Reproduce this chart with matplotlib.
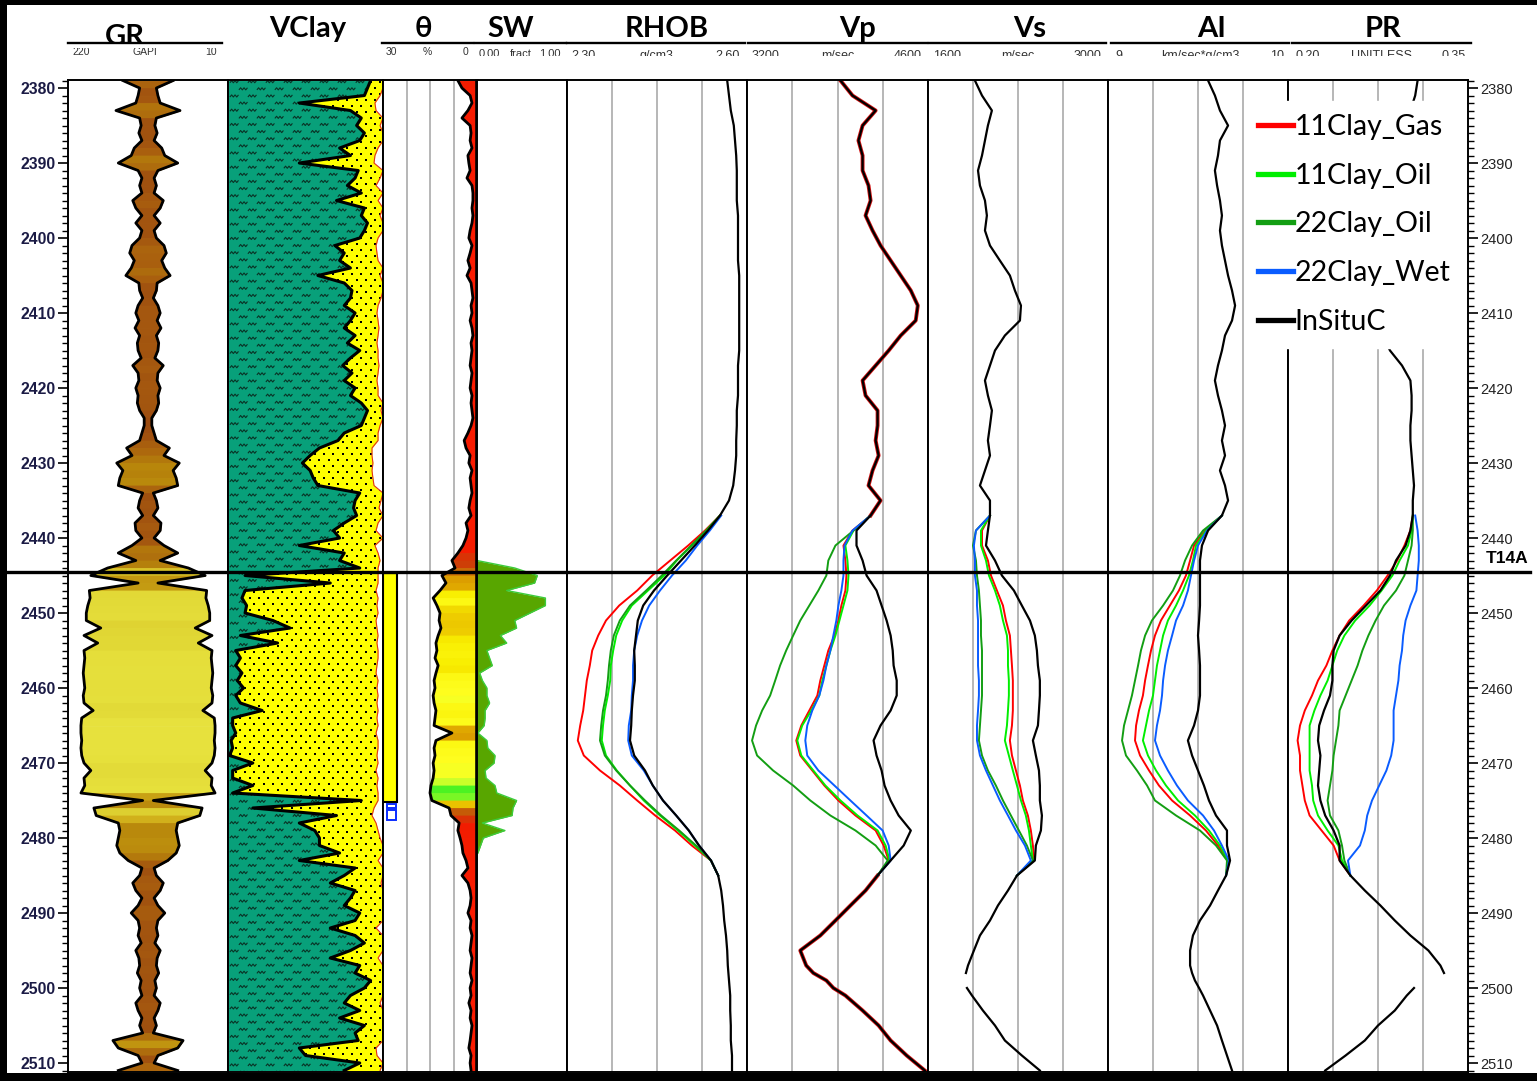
import numpy as np
import matplotlib
matplotlib.use("Agg")
import matplotlib.pyplot as plt
from matplotlib.colors import LinearSegmentedColormap, Normalize
from matplotlib.patches import Rectangle
from matplotlib.lines import Line2D
from matplotlib.path import Path
from matplotlib.ticker import MultipleLocator

plt.rcParams['font.family'] = ['Lato', 'DejaVu Sans']

# ---------------- log data ----------------
DEPTH = np.arange(2379, 2512)          # 1 m samples
# elastic logs: 2 m, with 1 m around the 2499 m data gap
EL_DEPTH = np.array(list(range(2379, 2498, 2)) + [2498, 2499, 2500] + list(range(2501, 2512, 2)))
SUB_DEPTH = np.arange(2437, 2486, 2)   # fluid substitution window
SW_DEPTH = np.arange(2443, 2483)

T14A = 2444.5
PAY = (2444.7, 2475.2)
WET_FLAGS = [(2475.4, 2476.0), (2476.3, 2477.6)]

GR = [82, 104, 102, 99, 73, 104, 106, 103, 107, 97,
      93, 76, 102, 107, 104, 107, 95, 99, 107, 99,
      107, 104, 94, 91, 97, 93, 86, 103, 104, 108,
      102, 99, 103, 98, 104, 101, 102, 106, 95, 102,
      103, 99, 102, 101, 104, 110, 110, 107, 104, 87,
      94, 74, 82, 78, 76, 108, 104, 102, 108, 98,
      99, 107, 94, 76, 99, 62, 40, 102, 38, 39,
      36, 34, 34, 53, 31, 49, 31, 32, 31, 30,
      31, 32, 30, 31, 43, 28, 27, 27, 28, 27,
      28, 31, 40, 31, 32, 27, 108, 44, 47, 76,
      78, 76, 74, 78, 89, 107, 104, 95, 99, 107,
      102, 93, 102, 104, 102, 106, 99, 103, 104, 101,
      106, 104, 107, 99, 102, 107, 104, 108, 69, 76,
      102, 107, 76]

VCLAY = [0.92, 0.90, 0.88, 0.46, 0.79, 0.86, 0.83, 0.88, 0.85, 0.72,
         0.79, 0.46, 0.84, 0.82, 0.77, 0.86, 0.70, 0.88, 0.86, 0.90,
         0.88, 0.85, 0.69, 0.75, 0.72, 0.79, 0.58, 0.75, 0.80, 0.79,
         0.75, 0.82, 0.79, 0.75, 0.82, 0.77, 0.85, 0.79, 0.74, 0.80,
         0.75, 0.82, 0.79, 0.86, 0.90, 0.88, 0.86, 0.75, 0.71, 0.59,
         0.53, 0.48, 0.53, 0.55, 0.58, 0.85, 0.82, 0.81, 0.83, 0.75,
         0.68, 0.72, 0.46, 0.75, 0.72, 0.85, 0.11, 0.66, 0.11, 0.09,
         0.12, 0.11, 0.29, 0.40, 0.08, 0.32, 0.05, 0.08, 0.05, 0.09,
         0.06, 0.10, 0.05, 0.08, 0.22, 0.03, 0.03, 0.05, 0.02, 0.03,
         0.01, 0.16, 0.03, 0.03, 0.16, 0.03, 0.86, 0.16, 0.70, 0.46,
         0.56, 0.59, 0.59, 0.72, 0.46, 0.82, 0.75, 0.66, 0.82, 0.79,
         0.75, 0.85, 0.82, 0.66, 0.82, 0.88, 0.79, 0.66, 0.85, 0.82,
         0.92, 0.88, 0.79, 0.75, 0.85, 0.72, 0.88, 0.82, 0.84, 0.46,
         0.50, 0.85, 0.75]

PHIE = [0, 0, .019, .052, .045, 0, .019, 0, 0, .032,
        .052, .058, 0, .019, .045, 0, .032, 0, .019, 0,
        0, .032, .045, .039, .032, 0, .019, 0, 0, .013,
        .032, .039, .032, .026, .032, .039, .032, .032, .026, .032,
        .039, .032, .032, 0, .013, 0, .019, .032, .032, .071,
        .071, .065, .071, .065, .058, 0, .013, .026, 0, .032,
        .045, 0, .052, .032, .019, .032, .032, .032, .045, .032,
        .039, .032, .045, .039, .032, .039, .032, .032, .039, .045,
        .032, .039, .032, .039, .032, .039, .032, .045, .032, .032,
        .039, .032, .045, .032, .039, .032, .032, .058, .071, .045,
        .032, .019, 0, 0, .032, 0, 0, .013, 0, 0,
        0, 0, 0, .045, 0, 0, 0, .032, 0, 0,
        0, 0, 0, .019, 0, 0, 0, 0, 0, .045,
        .039, 0, .019]

THETA = [6.1, 4.8, 2.2, 1.6, 2.9, 4.8, 2.2, 1.9, 2.2, 1.6,
         2.9, 2.6, 2.2, 3.2, 1.6, 1.3, 1.3, 1.6, 1.3, 1.6,
         2.2, 2.6, 1.6, 2.2, 2.9, 2.2, 3.2, 1.9, 1.6, 1.3,
         1.9, 1.6, 2.2, 1.6, 1.3, 1.9, 1.6, 1.9, 2.2, 1.6,
         1.9, 2.2, 1.6, 1.9, 1.6, 1.3, 1.9, 2.9, 4.1, 3.5,
         2.2, 2.6, 1.6, 2.2, 1.9, 1.6, 2.2, 2.6, 1.9, 3.5,
         2.9, 3.5, 4.5, 6.1, 8.0, 7.0, 11.2, 9.9, 11.8, 14.0,
         12.8, 11.8, 12.1, 11.5, 12.4, 13.1, 12.8, 13.4, 12.4, 13.1,
         13.7, 13.4, 14.0, 13.7, 13.1, 13.4, 13.7, 8.0, 13.1, 13.7,
         13.4, 14.0, 13.7, 14.0, 14.7, 15.0, 14.4, 8.9, 8.3, 5.7,
         6.1, 5.4, 4.8, 4.5, 3.5, 2.9, 4.8, 2.9, 2.2, 1.9,
         2.2, 2.9, 1.9, 2.2, 1.6, 1.9, 2.2, 1.6, 1.9, 2.2,
         1.6, 2.2, 1.9, 2.6, 1.9, 2.2, 1.6, 1.9, 2.2, 2.6,
         1.9, 2.2, 1.9]

SW = [0.00, 0.42, 0.67, 0.64, 0.33, 0.76, 0.76, 0.59, 0.42, 0.44,
      0.26, 0.33, 0.11, 0.14, 0.17, 0.03, 0.06, 0.11, 0.11, 0.14,
      0.09, 0.09, 0.08, 0.01, 0.11, 0.12, 0.20, 0.19, 0.09, 0.10,
      0.20, 0.22, 0.44, 0.40, 0.39, 0.06, 0.31, 0.07, 0.04, 0.01]

# in-situ elastic logs (on EL_DEPTH)
RHOB_IN = [2.567, 2.570, 2.573, 2.578, 2.580, 2.582, 2.583, 2.583, 2.583, 2.585,
           2.585, 2.585, 2.585, 2.587, 2.587, 2.587, 2.587, 2.587, 2.587, 2.585,
           2.585, 2.585, 2.583, 2.583, 2.582, 2.582, 2.580, 2.577, 2.570, 2.555,
           2.535, 2.513, 2.490, 2.467, 2.445, 2.427, 2.418, 2.415, 2.412, 2.413,
           2.413, 2.410, 2.408, 2.407, 2.405, 2.412, 2.430, 2.443, 2.460, 2.482,
           2.503, 2.520, 2.540, 2.552, 2.557, 2.560, 2.562, 2.565, 2.567, 2.568,
           2.569, 2.570, 2.571,
           2.572, 2.572, 2.573, 2.573, 2.575, 2.575]
VP_IN = [3923, 4016, 4195, 4094, 4062, 4094, 4094, 4140, 4156, 4117,
         4171, 4233, 4311, 4389, 4467, 4521, 4505, 4389, 4296, 4195,
         4094, 4117, 4210, 4210, 4195, 4218, 4171, 4140, 4233, 4156,
         4047, 4047, 4094, 4125, 4202, 4241, 4280, 4311, 4327, 4334,
         4358, 4358, 4311, 4233, 4179, 4202, 4241, 4264, 4311, 4373,
         4467, 4412, 4311, 4210, 4117, 4000, 3884, 3767, 3612, 3658,
         3713, 3814, 3868,
         3961, 4094, 4218, 4311, 4435, 4575]
VS_IN = [1965, 2020, 2097, 2066, 2043, 2020, 1989, 2004, 2043, 2058,
         2043, 2082, 2159, 2237, 2276, 2323, 2315, 2198, 2121, 2082,
         2043, 2066, 2097, 2082, 2066, 2082, 2043, 2004, 2082, 2082,
         2066, 2051, 2121, 2175, 2268, 2330, 2393, 2431, 2447, 2455,
         2470, 2470, 2463, 2455, 2416, 2439, 2463, 2470, 2470, 2486,
         2478, 2439, 2431, 2292, 2222, 2144, 2082, 2004, 1957, 1911,
         1895, np.nan, 1903,
         1942, 2027, 2121, 2198, 2330, 2470]
AI_IN = [9.556, 9.594, 9.622, 9.667, 9.622, 9.611, 9.594, 9.606, 9.622, 9.633,
         9.622, 9.633, 9.650, 9.667, 9.689, 9.706, 9.689, 9.650, 9.633, 9.611,
         9.594, 9.611, 9.633, 9.650, 9.633, 9.650, 9.622, 9.650, 9.667, 9.633,
         9.556, 9.522, 9.511, 9.511, 9.511, 9.511, 9.506, 9.500, 9.506, 9.511,
         9.511, 9.511, 9.500, 9.478, 9.444, 9.467, 9.500, 9.533, 9.561, 9.600,
         9.661, 9.661, 9.678, 9.656, 9.611, 9.567, 9.511, 9.472, 9.456, 9.456,
         9.467, 9.483, 9.506,
         9.528, 9.567, 9.606, 9.633, 9.661, 9.689]
PR_IN = [0.308, 0.306, 0.302, 0.298, 0.293, 0.292, 0.289, 0.293, 0.295, 0.292,
         0.289, 0.287, 0.283, 0.281, 0.278, 0.275, 0.277, 0.279, 0.285, 0.295,
         0.302, 0.303, 0.303, 0.302, 0.302, 0.303, 0.304, 0.305, 0.304, 0.304,
         0.302, 0.298, 0.290, 0.285, 0.277, 0.265, 0.253, 0.243, 0.238, 0.237,
         0.237, 0.235, 0.230, 0.226, 0.225, 0.227, 0.226, 0.225, 0.227, 0.231,
         0.238, 0.243, 0.243, 0.252, 0.264, 0.277, 0.289, 0.302, 0.317, 0.327,
         0.330, np.nan, 0.305,
         0.299, 0.289, 0.275, 0.264, 0.248, 0.231]

# substituted cases, 2437-2485 m
RHOB_GAS = [2.555, 2.530, 2.502, 2.472, 2.442, 2.417, 2.387, 2.365, 2.352, 2.342, 2.338, 2.333, 2.330,
            2.327, 2.322, 2.318, 2.328, 2.355, 2.388, 2.417, 2.447, 2.480, 2.508, 2.540, 2.552]
RHOB_OIL11 = [2.555, 2.532, 2.508, 2.483, 2.462, 2.435, 2.408, 2.392, 2.382, 2.377, 2.373, 2.372, 2.368,
              2.363, 2.360, 2.358, 2.365, 2.383, 2.405, 2.428, 2.455, 2.485, 2.513, 2.540, 2.552]
RHOB_OIL22 = [2.555, 2.532, 2.507, 2.482, 2.458, 2.432, 2.405, 2.388, 2.378, 2.373, 2.370, 2.368, 2.365,
              2.360, 2.357, 2.355, 2.363, 2.382, 2.405, 2.430, 2.457, 2.487, 2.515, 2.540, 2.552]
RHOB_WET22 = [2.557, 2.538, 2.517, 2.498, 2.475, 2.455, 2.437, 2.425, 2.417, 2.412, 2.410, 2.410, 2.408,
              2.407, 2.403, 2.402, 2.408, 2.428, 2.443, 2.460, 2.482, 2.503, 2.520, 2.540, 2.552]

VP_GAS = [4156, 4016, 3946, 3961, 3969, 3961, 3930, 3907, 3876, 3829, 3798, 3767, 3744,
          3682, 3620, 3581, 3612, 3705, 3798, 3907, 4039, 4195, 4257, 4296, 4210]
VP_OIL11 = [4156, 4024, 3961, 3977, 3985, 3977, 3946, 3915, 3884, 3845, 3814, 3783, 3759,
            3697, 3627, 3589, 3620, 3713, 3806, 3923, 4055, 4210, 4272, 4303, 4210]
VP_OIL22 = [4156, 4024, 3884, 3829, 3814, 3752, 3682, 3612, 3557, 3503, 3456, 3418, 3379,
            3317, 3270, 3239, 3278, 3402, 3557, 3690, 3845, 4039, 4195, 4288, 4210]
VP_WET22 = [4156, 4016, 3954, 3946, 3946, 3930, 3907, 3891, 3868, 3845, 3814, 3791, 3759,
            3705, 3666, 3651, 3666, 3752, 3876, 4000, 4125, 4249, 4296, 4311, 4210]

VS_GAS = [2082, 2020, 2020, 2066, 2090, 2136, 2183, 2206, 2237, 2245, 2253, 2260, 2260,
          2260, 2253, 2237, 2253, 2284, 2315, 2338, 2377, 2400, 2416, 2424, 2292]
VS_OIL11 = [2082, 2012, 2012, 2051, 2074, 2121, 2159, 2183, 2214, 2222, 2222, 2229, 2229,
            2222, 2214, 2198, 2229, 2260, 2292, 2323, 2361, 2385, 2400, 2416, 2292]
VS_OIL22 = [2082, 1973, 1950, 1973, 1981, 1996, 2004, 2012, 2012, 2020, 2020, 2020, 2020,
            2012, 2004, 1996, 2020, 2066, 2128, 2183, 2245, 2307, 2369, 2416, 2292]
VS_WET22 = [2082, 1973, 1957, 1965, 1965, 1981, 1981, 1989, 1989, 1989, 1989, 1996, 1996,
            1989, 1981, 1981, 2004, 2051, 2105, 2159, 2222, 2284, 2354, 2400, 2292]

AI_GAS = [9.633, 9.539, 9.478, 9.456, 9.433, 9.394, 9.344, 9.294, 9.261, 9.239, 9.222, 9.206, 9.194,
          9.172, 9.156, 9.150, 9.178, 9.228, 9.283, 9.356, 9.456, 9.544, 9.611, 9.667, 9.656]
AI_OIL11 = [9.633, 9.544, 9.489, 9.472, 9.450, 9.417, 9.378, 9.333, 9.306, 9.289, 9.272, 9.261, 9.250,
            9.228, 9.211, 9.194, 9.222, 9.267, 9.322, 9.389, 9.483, 9.561, 9.622, 9.667, 9.656]
AI_OIL22 = [9.633, 9.528, 9.467, 9.428, 9.400, 9.361, 9.306, 9.244, 9.206, 9.183, 9.167, 9.150, 9.133,
            9.111, 9.089, 9.078, 9.100, 9.161, 9.217, 9.261, 9.378, 9.511, 9.600, 9.661, 9.656]
AI_WET22 = [9.633, 9.550, 9.500, 9.478, 9.461, 9.444, 9.417, 9.378, 9.356, 9.333, 9.317, 9.306, 9.300,
            9.289, 9.272, 9.261, 9.289, 9.333, 9.383, 9.444, 9.528, 9.589, 9.633, 9.672, 9.656]

PR_GAS = [0.304, 0.302, 0.297, 0.291, 0.283, 0.274, 0.263, 0.251, 0.243, 0.237, 0.232, 0.225, 0.220,
          0.214, 0.210, 0.208, 0.210, 0.210, 0.212, 0.214, 0.218, 0.228, 0.238, 0.243, 0.252]
PR_OIL11 = [0.304, 0.303, 0.300, 0.293, 0.287, 0.278, 0.268, 0.256, 0.247, 0.241, 0.237, 0.233, 0.227,
            0.222, 0.218, 0.218, 0.218, 0.218, 0.220, 0.221, 0.225, 0.233, 0.242, 0.245, 0.252]
PR_OIL22 = [0.304, 0.304, 0.303, 0.300, 0.297, 0.290, 0.280, 0.273, 0.267, 0.262, 0.258, 0.253, 0.248,
            0.243, 0.242, 0.240, 0.238, 0.237, 0.235, 0.233, 0.235, 0.242, 0.245, 0.247, 0.252]
PR_WET22 = [0.306, 0.308, 0.309, 0.309, 0.308, 0.307, 0.302, 0.298, 0.296, 0.295, 0.293, 0.292, 0.290,
            0.288, 0.288, 0.288, 0.286, 0.282, 0.276, 0.270, 0.266, 0.264, 0.260, 0.250, 0.252]

CASES = ["11Clay_Gas", "11Clay_Oil", "22Clay_Oil", "22Clay_Wet", "InSituC"]
CASE_COLORS = ["#ff0000", "#00ee00", "#139e13", "#0a5cff", "black"]

TITLES = ["GR", "VClay", "θ", "SW", "RHOB", "Vp", "Vs", "AI", "PR"]
SCALES = [("220", "GAPI", "10"), None, ("30", "%", "0"), ("0.00", "fract", "1.00"),
          ("2.30", "g/cm3", "2.60"), ("3200", "m/sec", "4600"), ("1600", "m/sec", "3000"),
          ("9", "km/sec*g/cm3", "10"), ("0.20", "UNITLESS", "0.35")]

# ---------------- layout (pixels) ----------------
W, H = 1537, 1081
EDGES = [68, 228, 383, 477, 567, 747, 928, 1108, 1288, 1468]
TOP, BOT = 80, 1072
D_TOP, D_BOT = 2378.93, 2511.2
TITLE_X = [125, 308, 423, 511, 667, 858, 1030, 1212, 1383]
SCALE_LINES = [(68, 222), None, (382, 473), (475, 566), (567, 745), (748, 927),
               (929, 1106), (1111, 1289), (1292, 1471)]
SCALE_FONT = [7.5, None, 7.5, 8, 9, 9, 9, 9, 9]
SCALE_Y = [52, None, 52, 54, 56, 56, 56, 56, 56]

fig = plt.figure(figsize=(W / 100, H / 100), dpi=100)


def fx(px):
    return px / W


def fy(py):
    return 1 - py / H


axes = []
for l, r in zip(EDGES[:-1], EDGES[1:]):
    ax = fig.add_axes([fx(l), fy(BOT), (r - l) / W, (BOT - TOP) / H])
    ax.set_ylim(D_BOT, D_TOP)
    ax.tick_params(which='both', left=False, bottom=False, labelleft=False, labelbottom=False)
    for s in ax.spines.values():
        s.set_linewidth(1.4)
    axes.append(ax)
ax_gr, ax_vcl, ax_th, ax_sw, ax_rhob, ax_vp, ax_vs, ax_ai, ax_pr = axes

# ---- GR, mirrored about the track centre ----
ax_gr.set_xlim(220, 10)
gr = np.asarray(GR, float)
gr_mirror = 230 - gr
gr_cmap = LinearSegmentedColormap.from_list(
    "gr", [(0, "#e8e33e"), (0.2, "#e0d634"), (0.45, "#cfac18"), (0.62, "#b8870b"),
           (0.82, "#a95f0e"), (1, "#9c4b10")])
gr_norm = Normalize(25, 110, clip=True)
for i in range(len(DEPTH) - 1):
    c = gr_cmap(gr_norm(0.5 * (gr[i] + gr[i + 1])))
    ax_gr.fill_betweenx(DEPTH[i:i + 2], gr_mirror[i:i + 2], gr[i:i + 2], color=c, lw=0.6)
ax_gr.plot(gr, DEPTH, color="k", lw=2.0)
ax_gr.plot(gr_mirror, DEPTH, color="k", lw=2.0)

# ---- VClay: shale / sand / porosity ----
ax_vcl.set_xlim(0, 1)
vcl = np.asarray(VCLAY)
sand_edge = 1 - np.asarray(PHIE)
green = ax_vcl.fill_betweenx(DEPTH, 0, vcl, color="#08a07a", lw=0)
yellow = ax_vcl.fill_betweenx(DEPTH, vcl, sand_edge, color="#ffff00", lw=0)

zig = Path([(-1, 0), (-0.6, 0.5), (-0.2, 0), (0.2, 0.5), (0.6, 0), (1.0, 0.5)])
sx, sy = np.meshgrid(np.arange(0.04, 1.0, 0.116), np.arange(2379.3, 2511.5, 0.95))
sx = sx + (np.arange(sy.shape[0]) % 2 * 0.058)[:, None]
shale_sym = ax_vcl.scatter(sx.ravel(), sy.ravel(), marker=zig, s=38, facecolors="none",
                           edgecolors="#0a3326", linewidths=0.8, zorder=1.5)
shale_sym.set_clip_path(green.get_paths()[0], green.get_transform())

dx, dy = np.meshgrid(np.arange(0.02, 1.0, 0.06), np.arange(2379.2, 2511.5, 0.8))
dx = dx + (np.arange(dy.shape[0]) % 2 * 0.03)[:, None]
sand_dots = ax_vcl.scatter(dx.ravel(), dy.ravel(), marker="s", s=1.6, color="k", lw=0, zorder=1.5)
sand_dots.set_clip_path(yellow.get_paths()[0], yellow.get_transform())

ax_vcl.plot(sand_edge, DEPTH, color="#e03020", lw=0.8, zorder=2)
ax_vcl.plot(vcl, DEPTH, color="k", lw=2.2, zorder=2.5)

# ---- theta ----
ax_th.set_xlim(30, 0)
th = np.asarray(THETA)
th_cmap = LinearSegmentedColormap.from_list(
    "theta", [(0, "#ff1a00"), (0.40, "#f21c00"), (0.54, "#c04a0a"), (0.67, "#d48c00"),
              (0.78, "#ebc400"), (0.86, "#f8ee00"), (0.92, "#ffff22"), (0.96, "#c6ff2a"),
              (1, "#2ef020")])
th_norm = Normalize(0, 15, clip=True)
for i in range(len(DEPTH) - 1):
    c = th_cmap(th_norm(0.5 * (th[i] + th[i + 1])))
    ax_th.fill_betweenx(DEPTH[i:i + 2], 0, th[i:i + 2], color=c, lw=0.6, zorder=1)
ax_th.plot(th, DEPTH, color="k", lw=2.0, zorder=2)
ax_th.spines["right"].set_linewidth(2.6)
ax_th.add_patch(Rectangle((25.5, PAY[0]), 4.5, PAY[1] - PAY[0], fc="#ffff00", ec="k", lw=1.5, zorder=3))
for top, base in WET_FLAGS:
    ax_th.add_patch(Rectangle((26.0, top), 2.8, base - top, fc="none", ec="#0a2cff", lw=1.4, zorder=3))

# ---- SW ----
ax_sw.set_xlim(0, 1)
ax_sw.fill_betweenx(SW_DEPTH, 0, SW, color="#58a600", lw=0)
ax_sw.plot(SW, SW_DEPTH, color="#3ccc3c", lw=1.0)

# ---- elastic tracks ----
elastic = [
    (ax_rhob, (2.30, 2.60), RHOB_IN, [RHOB_GAS, RHOB_OIL11, RHOB_OIL22, RHOB_WET22]),
    (ax_vp, (3200, 4600), VP_IN, [VP_GAS, VP_OIL11, VP_OIL22, VP_WET22]),
    (ax_vs, (1600, 3000), VS_IN, [VS_GAS, VS_OIL11, VS_OIL22, VS_WET22]),
    (ax_ai, (9, 10), AI_IN, [AI_GAS, AI_OIL11, AI_OIL22, AI_WET22]),
    (ax_pr, (0.20, 0.35), PR_IN, [PR_GAS, PR_OIL11, PR_OIL22, PR_WET22]),
]
outside = (EL_DEPTH <= SUB_DEPTH[0]) | (EL_DEPTH >= SUB_DEPTH[-1])
for ax, lim, insitu, subs in elastic:
    ax.set_xlim(*lim)
    if ax is ax_vp:
        # gas case coincides with in-situ outside the substitution window
        ax.plot(np.where(outside, insitu, np.nan), EL_DEPTH, color="#d01010", lw=2.8)
    for vals, c in zip(subs, CASE_COLORS[:4]):
        ax.plot(vals, SUB_DEPTH, color=c, lw=1.4)
    ax.plot(insitu, EL_DEPTH, color="k", lw=1.6)

for ax, lim in [(ax_th, (30, 0))] + [(e[0], e[1]) for e in elastic]:
    ax.set_xticks(np.linspace(lim[0], lim[1], 5)[1:-1])
    ax.set_axisbelow(True)
    ax.grid(axis="x", color="#a3a3a3", lw=1.1)
    ax.grid(axis="y", visible=False)

# ---- depth scales ----
for ax, side in [(ax_gr, "left"), (ax_pr, "right")]:
    ax.yaxis.set_major_locator(MultipleLocator(10))
    ax.yaxis.set_minor_locator(MultipleLocator(1))
    ax.set_ylim(D_BOT, D_TOP)
    kw = {side: True, "label" + side: True}
    ax.tick_params(axis="y", which="major", direction="out", length=7, width=1.2, pad=2, **kw)
    ax.tick_params(axis="y", which="minor", direction="out", length=4, width=1.0, **{side: True})
for t in ax_gr.get_yticklabels():
    t.set_fontfamily("Liberation Sans")
    t.set_fontweight("bold")
    t.set_fontsize(11.3)
    t.set_color("#1b1b45")
for t in ax_pr.get_yticklabels():
    t.set_fontfamily("Liberation Sans")
    t.set_fontsize(10.5)
    t.set_color("#222222")

# ---- marker line T14A ----
yd = ax_gr.transData.transform((0, T14A))[1]
y_t = yd / fig.bbox.height
fig.add_artist(Line2D([fx(8), fx(1530)], [y_t, y_t], color="k", lw=2.4, zorder=10))
fig.text(fx(1486), y_t + 6 / H, "T14A", fontfamily="Liberation Sans", fontweight="bold",
         fontsize=12.5, ha="left", va="bottom")

# ---- header ----
for i, (title, tx) in enumerate(zip(TITLES, TITLE_X)):
    base = 45 if i == 0 else 37
    fig.text(fx(tx), fy(base), title, ha="center", va="baseline", fontsize=21,
             fontweight="bold", zorder=3)
fig.add_artist(Rectangle((fx(60), fy(47.5)), fx(170), 4 / H, transform=fig.transFigure,
                         fc="white", ec="none", zorder=4))
for span, labels, fs, ly in zip(SCALE_LINES, SCALES, SCALE_FONT, SCALE_Y):
    if span is None:
        continue
    l, r = span
    fig.add_artist(Line2D([fx(l), fx(r)], [fy(42.5), fy(42.5)], color="k", lw=1.7, zorder=5))
    kw = dict(fontfamily="Liberation Sans", fontsize=fs, color="#333333", va="center", zorder=3)
    fig.text(fx(l + 4), fy(ly), labels[0], ha="left", **kw)
    fig.text(fx((l + r) / 2), fy(ly), labels[1], ha="center", **kw)
    fig.text(fx(r - 5), fy(ly), labels[2], ha="right", **kw)
# the unit row is cropped by the plot header band
fig.add_artist(Rectangle((fx(474), fy(79)), fx(1010), 23.5 / H, transform=fig.transFigure,
                         fc="white", ec="none", zorder=4))

# ---- legend ----
handles = [Line2D([], [], color=c, lw=3.8) for c in CASE_COLORS]
fig.legend(handles, CASES, loc="upper left", bbox_to_anchor=(fx(1245), fy(101)),
           bbox_transform=fig.transFigure, frameon=True, fancybox=False, framealpha=1,
           facecolor="white", edgecolor="white", fontsize=20.5, handlelength=1.23,
           handletextpad=0.05, labelspacing=0.8, borderpad=0.45, borderaxespad=0)

# ---- frame ----
for x0, y0, w, h in [(0, 0, W, 5), (0, 0, 7, H), (0, 1073, W, 8)]:
    fig.add_artist(Rectangle((fx(x0), fy(y0 + h)), w / W, h / H, transform=fig.transFigure,
                             fc="black", ec="none", zorder=20))

fig.savefig("out.png", dpi=100, facecolor="white")
